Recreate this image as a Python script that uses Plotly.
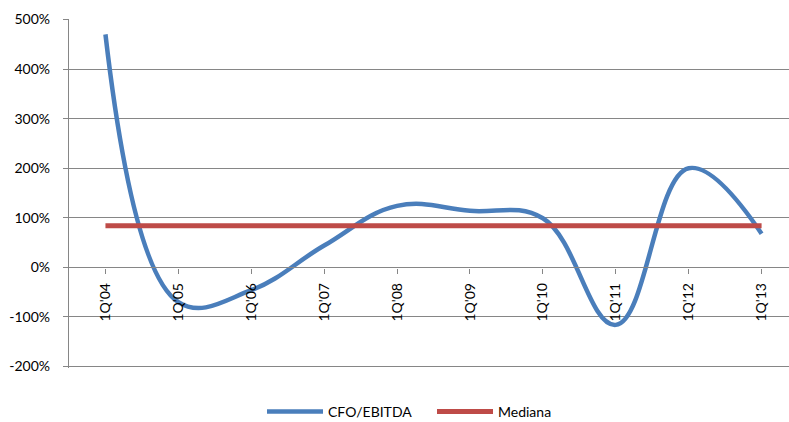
import plotly.graph_objects as go

categories = ["1Q'04", "1Q'05", "1Q'06", "1Q'07", "1Q'08", "1Q'09", "1Q'10", "1Q'11", "1Q'12", "1Q'13"]
cfo_ebitda = [470, -70, -46, 44, 124, 114, 99, -116, 200, 68]
mediana = [84] * len(categories)
y_ticks = [-200, -100, 0, 100, 200, 300, 400, 500]
y_labels = ["-200%", "-100%", "0%", "100%", "200%", "300%", "400%", "500%"]

FONT = "Lato"
H = 422
ymin, ymax = -203, 501
px_per_unit = 348 / 700
top = 19 - (ymax - 500) * px_per_unit
bottom = 367 + (-200 - ymin) * px_per_unit
zero_pos = (0 - ymin) / (ymax - ymin)

fig = go.Figure()
fig.add_trace(go.Scatter(
    x=list(range(len(categories))), y=cfo_ebitda, mode="lines", name="CFO/EBITDA",
    line=dict(color="#4A7EBB", width=4.5, shape="spline", smoothing=1.15),
))
fig.add_trace(go.Scatter(
    x=list(range(len(categories))), y=mediana, mode="lines", name="Mediana",
    line=dict(color="#BE4B48", width=5),
))

fig.update_layout(
    width=789, height=H,
    margin=dict(l=69, r=0, t=top, b=H - bottom, pad=0, autoexpand=False),
    paper_bgcolor="white", plot_bgcolor="white",
    font=dict(family=FONT, size=14, color="#000000"),
    showlegend=True,
    legend=dict(orientation="h", xref="container", x=262 / 789, xanchor="left",
                y=-0.08, yanchor="top", entrywidth=99, entrywidthmode="pixels",
                font=dict(family=FONT, size=14), itemwidth=56, traceorder="normal"),
    xaxis=dict(
        range=[-0.5, 9.376], tickmode="array", tickvals=list(range(len(categories))),
        ticktext=categories, tickangle=-90, anchor="free", position=zero_pos,
        showline=True, linecolor="#868686", linewidth=1.3, showgrid=False,
        ticks="outside", tickson="boundaries", ticklen=5, tickcolor="#868686",
        zeroline=False, ticklabelstandoff=4,
    ),
    yaxis=dict(
        range=[ymin, ymax], tickmode="array", tickvals=y_ticks, ticktext=y_labels,
        showline=True, linecolor="#868686", linewidth=1.3, showgrid=True,
        gridcolor="#868686", gridwidth=1.3, zeroline=False, ticks="outside",
        ticklen=5, tickcolor="#868686", ticklabelstandoff=10,
    ),
)
fig.write_html("out.html")
